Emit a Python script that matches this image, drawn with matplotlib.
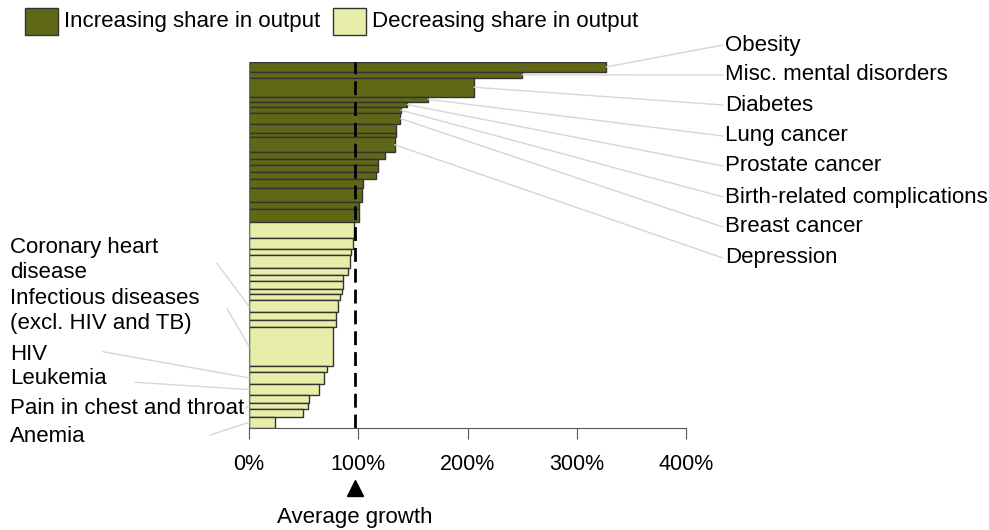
import numpy as np
import matplotlib.pyplot as plt
from matplotlib.patches import ConnectionPatch, Rectangle
from matplotlib.transforms import ScaledTranslation

plt.rcParams['font.family'] = ['Liberation Sans', 'DejaVu Sans']

# growth in output (%) and share of total (height of each bar)
inc_growth = [327, 250, 206, 164, 145, 139, 138.6, 135, 134.6, 133.4, 124.5, 118.4,
              117.8, 116, 104, 103, 101, 100.7]
inc_share = [2.7, 1.6, 5.2, 1.4, 1.5, 1.5, 3.1, 2.3, 1.3, 4.0, 1.8, 1.8, 1.8, 2.1,
             2.2, 3.9, 2.0, 3.5]
dec_growth = [96, 95, 93, 92.5, 91, 86.4, 85.8, 85.5, 83.7, 81.2, 80, 79.6, 76.6,
              71.7, 68.4, 64.4, 54.7, 54.3, 49.2, 23.8]
dec_share = [4.4, 3.1, 1.6, 3.5, 2.0, 1.6, 2.0, 1.6, 1.6, 3.3, 2.0, 1.9, 10.7, 1.6,
             3.4, 3.0, 2.2, 1.6, 2.1, 3.1]
avg_growth = 96.8

# labelled bars: index into series -> name
inc_labels = {0: "Obesity", 1: "Misc. mental disorders", 2: "Diabetes", 3: "Lung cancer",
              4: "Prostate cancer", 5: "Birth-related complications", 6: "Breast cancer",
              9: "Depression"}
dec_labels = {9: "Coronary heart\ndisease", 12: "Infectious diseases\n(excl. HIV and TB)",
              14: "HIV", 15: "Leukemia", 17: "Pain in chest and throat", 19: "Anemia"}

dark = '#606818'
light = '#E8EEAA'
W, H = 989, 530

growth = np.array(inc_growth + dec_growth)
share = np.array(inc_share + dec_share)
colors = [dark] * len(inc_growth) + [light] * len(dec_growth)
top = np.concatenate([[0], np.cumsum(share)[:-1]])
center = top + share / 2

fig = plt.figure(figsize=(W / 100, H / 100), dpi=100)
ax = fig.add_axes([249 / W, (H - 428) / H, (686 - 249) / W, (428 - 62) / H])
ax.barh(center, growth, height=share, color=colors, edgecolor='#333333', linewidth=1)
ax.set_xlim(0, 400)
ax.set_ylim(share.sum(), 0)
ax.axvline(avg_growth, color='black', linestyle=(0, (5, 2.5)), linewidth=2)

for s in ['top', 'right']:
    ax.spines[s].set_visible(False)
ax.spines['left'].set_color('#777777')
ax.spines['bottom'].set_color('#555555')
ax.set_yticks([])
ax.set_xticks([0, 100, 200, 300, 400])
ax.set_xticklabels(['0%', '100%', '200%', '300%', '400%'], fontsize=15.5)
ax.tick_params(axis='x', length=8, color='#555555', pad=11)

line_col = '#d6d6d6'
# right side labels
right_y = [45, 75, 105, 136, 166, 197, 227, 258]
for (i, name), py in zip(inc_labels.items(), right_y):
    con = ConnectionPatch(xyA=(growth[i], center[i]), coordsA=ax.transData,
                          xyB=(723, H - py), coordsB='figure pixels',
                          color=line_col, linewidth=1)
    fig.add_artist(con)
    fig.text(725 / W, 1 - py / H, name, fontsize=16, ha='left', va='center')

# left side labels: text position and leader start
left_txt = [260, 311, 354, 378, 408, 436]
left_start = [(216.7, 263), (226.7, 308), (103, 351.7), (135, 382.3), (245, 408.3), (210, 435)]
n_inc = len(inc_growth)
for (i, name), ty, (sx, sy) in zip(dec_labels.items(), left_txt, left_start):
    k = n_inc + i
    con = ConnectionPatch(xyA=(0, center[k]), coordsA=ax.transData,
                          xyB=(sx, H - sy), coordsB='figure pixels',
                          color=line_col, linewidth=1)
    fig.add_artist(con)
    fig.text(10 / W, 1 - ty / H, name, fontsize=16, ha='left', va='center',
             linespacing=1.22)

# average growth marker
tri, = ax.plot([avg_growth], [0], marker='^', markersize=12, color='black', clip_on=False)
tri.set_transform(ax.get_xaxis_transform()
                  + ScaledTranslation(0, -60 / 100, fig.dpi_scale_trans))
fig.text((249 + avg_growth * 437 / 400) / W, 1 - 518 / H, 'Average growth', fontsize=16,
         ha='center', va='center')

# legend
fig.add_artist(Rectangle((25 / W, 1 - 35 / H), 33 / W, 27 / H, transform=fig.transFigure,
                         facecolor=dark, edgecolor='#333333', linewidth=1))
fig.text(64 / W, 1 - 22 / H, 'Increasing share in output', fontsize=16, va='center')
fig.add_artist(Rectangle((333 / W, 1 - 35 / H), 33 / W, 27 / H, transform=fig.transFigure,
                         facecolor=light, edgecolor='#333333', linewidth=1))
fig.text(372 / W, 1 - 22 / H, 'Decreasing share in output', fontsize=16, va='center')

fig.savefig('out.png', dpi=100)
